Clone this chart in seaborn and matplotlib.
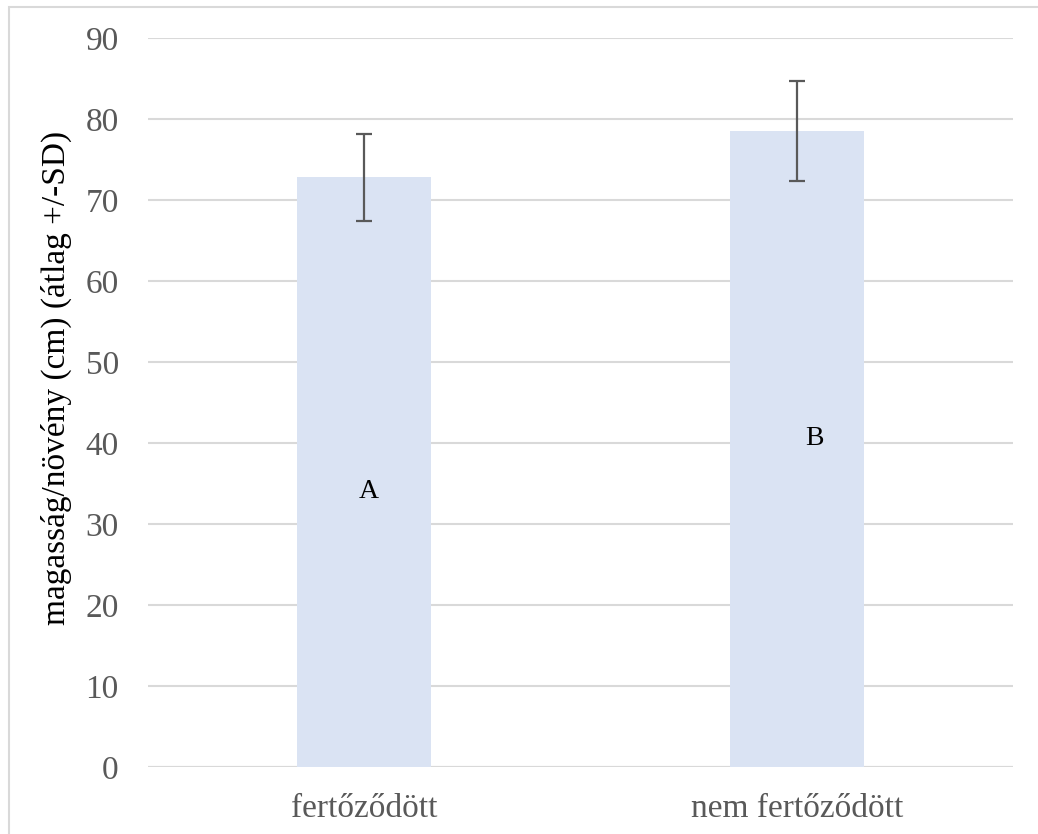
import matplotlib
matplotlib.use("Agg")
import matplotlib.pyplot as plt
import seaborn as sns
import pandas as pd
from matplotlib.patches import Rectangle

# data
groups = ["fertőződött", "nem fertőződött"]
means = [72.8, 78.5]
sds = [5.35, 6.2]
letters = ["A", "B"]
letter_y = [34.0, 40.6]

df = pd.DataFrame({"group": groups, "mean": means})

sns.set_style("white")
plt.rcParams["font.family"] = ["Liberation Serif", "DejaVu Serif"]

fig = plt.figure(figsize=(10.38, 8.34), dpi=100)
ax = fig.add_axes([0.1426, 0.0803, 0.8334, 0.8741])

sns.barplot(data=df, x="group", y="mean", color="#DAE3F3", saturation=1,
            width=0.31, errorbar=None, linewidth=0, ax=ax, zorder=2)

xpos = range(len(groups))
ax.errorbar(list(xpos), means, yerr=sds, fmt="none", ecolor="#595959",
            elinewidth=1.6, capsize=6, capthick=1.6, zorder=3)

for i, (lab, ly) in enumerate(zip(letters, letter_y)):
    dx = 0.01 if i == 0 else 0.04
    ax.text(i + dx, ly, lab, ha="center", va="center", fontsize=20,
            color="black", zorder=4)

ax.set_ylim(0, 90)
ax.set_xlim(-0.5, 1.5)
ax.set_yticks(range(0, 91, 10))
ax.yaxis.grid(True, color="#D9D9D9", linewidth=1.5, zorder=0)
ax.set_axisbelow(True)
for s in ["top", "right", "left", "bottom"]:
    ax.spines[s].set_visible(False)
ax.axhline(0, color="#D9D9D9", linewidth=1.5, zorder=1)

ax.tick_params(axis="both", length=0, labelsize=24, labelcolor="#595959")
ax.tick_params(axis="y", pad=21)
ax.tick_params(axis="x", pad=19)
ax.set_xlabel("")
ax.set_ylabel("magasság/növény (cm) (átlag +/-SD)", fontsize=24,
              color="black")
ax.yaxis.set_label_coords(-0.088, 0.534)

# outer chart border (right and bottom edges fall outside the image)
fig.patches.append(Rectangle((0.009, -0.01), 1.0, 1.0015, transform=fig.transFigure,
                             fill=False, edgecolor="#D9D9D9", linewidth=1.5))

fig.savefig("out.png", dpi=100)
